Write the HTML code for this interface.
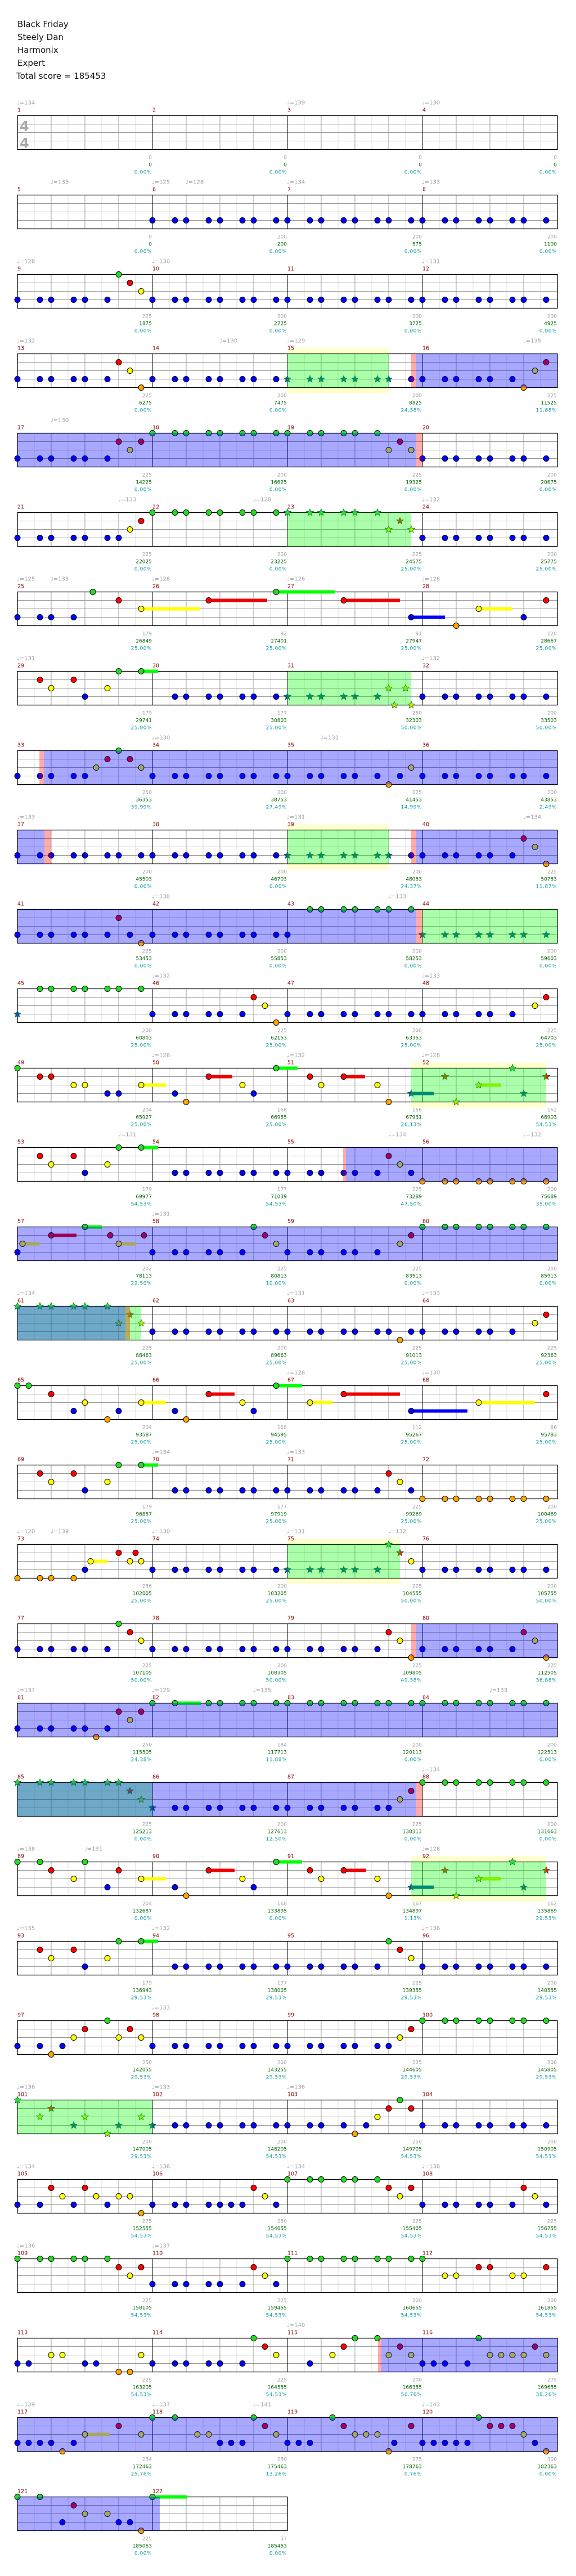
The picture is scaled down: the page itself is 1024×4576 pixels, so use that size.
<!DOCTYPE html>
<html><head><meta charset="utf-8">
<style>
html,body{margin:0;padding:0;background:#fff;}
svg{display:block;}
</style></head>
<body>
<svg id="s" xmlns="http://www.w3.org/2000/svg" width="1024" height="4576" viewBox="0 0 1024 4576" font-family="DejaVu Sans, Liberation Sans, sans-serif">
<rect width="1024" height="4576" fill="#fff"/>
<g font-size="15" fill="#111">
<text x="31" y="48">Black Friday</text>
<text x="31" y="71">Steely Dan</text>
<text x="31" y="94">Harmonix</text>
<text x="31" y="117">Expert</text>
<text x="29" y="140">Total score = 185453</text>
</g>
</svg>
<script>
(function(){
var NS="http://www.w3.org/2000/svg";
var svg=document.getElementById('s');
var out=[];
var LANE={G:0,R:1,Y:2,B:3,O:4};
var FILL={G:'#22dd22',R:'#ff0000',Y:'#ffff00',B:'#0000ff',O:'#ffa500'};
var SFILL={G:'#33dd33',R:'#ff2200',Y:'#ccee00',B:'#1050b0',O:'#dddd00'};
var SUS={G:'#00ff00',R:'#ee0000',Y:'#ffff00',B:'#0000ff',O:'#ff9900'};
var STD=[0,2,3,5,6,8,9,11];
var M=[null,
"","","","","",
"Bx8","Bx8","Bx8",
"Bx6 G9 R10 Y11","Bx8","Bx8","Bx8",
"Bx6 R9 Y10 O11","Bx8","*Bx7 B11","Bx6 O9 Y10 R11",
"Bx6 R9 Y10 R11","Gx8","Gx6 Y9 R10 Y11","Bx8",
"Bx7 Y10 R11","Gx8","*Gx6 *Y9 *R10 *Y11","Bx8",
"B0 B2 B3 B5 G6.7 R9 Y11-16.2","R5-10.2 G11-16.2","R5-10 B11-14","O3 Y5-8 B9 R11",
"R2 Y3 R5 B6 Y8 G9 G11-12.5","B2 B3 B5 B6 B8 B9 B11","*Bx6 *Y9 *O9.5 *Y10.5 *O11","Bx8",
"B0 B2 B3 B5 B6 Y7 R8 G9 R10 Y11","Bx8","Bx6 O9 B10 Y11","Bx8",
"Bx8","Bx8","*Bx7 B11","Bx6 R9 Y10 O11",
"Bx6 R9 B10 O11","Bx8","B0 G2 G3 G5 G6 G8 G9 G11","*Bx8",
"*B0 G2 G3 G5 G6 G8 G9 G11","Bx6 R9 Y10 O11","Bx8","Bx6 Y10 R11",
"G0 R2 R3 Y5 Y6 B8 B9 Y11-13.2","B2 O3 R5-7.1 Y8 B9 G11-12.9","R2 Y3 R5-6.9 Y8 O9 *B11-13","*R2 *O3 *Y5-7 *G8 *B9 *R11",
"R2 Y3 R5 B6 Y8 G9 G11-12.5","B2 B3 B5 B6 B8 B9 B11","Bx6 R9 Y10 B11","Ox8",
"B0 Y0.45-1.95 R3-5.25 G6-7.5 R8.25 Y9-10.5 R11.25","Bx6 G9 R10 Y11","Bx6 Y10 R11","Gx8",
"*Gx6 *Y9 *R10 *Y11","Bx8","Bx7 O10 B11","Bx6 Y10 R11",
"G0 G1 R3 B5 Y6 O8 B9 Y11-13.2","B2 O3 R5-7.3 Y8 B9 G11-13.3","Y2-4 R5-10 B11-16","Y5-10 R11",
"R2 Y3 R5 B6 Y8 G9 G11-12.5","B2 B3 B5 B6 B8 B9 B11","Bx6 R9 Y10 B11","Ox8",
"O0 O2 O3 O5 B6 Y6.5-8 R9 Y10 R10.5 Y11","Bx8","*Bx6 *G9 *R10 Y11","Bx8",
"Bx6 G9 R10 Y11","Bx8","Bx6 R9 Y10 O11","Bx6 R9 Y10 O11",
"Bx6 O7 R9 Y10 R11","G0 G2-4.3 G5 G6 G8 G9 G11","Gx8","Gx8",
"*Gx7 *R10 *Y11","*B0 B2 B3 B5 B6 B8 B9 B11","Bx7 Y10 R11","Gx8",
"G0 G2 R3 Y5 G6 B8 R9 Y11-13.2","B2 O3 R5-7.3 Y8 B9 G11-13.3","R2 Y3 R5-7 Y8 O9 *B11-13","*R2 *O3 *Y5-7 *G8 *B9 *R11",
"R2 Y3 R5 B6 Y8 G9 G11-12.5","B2 B3 B5 B6 B8 B9 B11","Bx6 G9 R10 Y11","Bx8",
"B0 B2 O3 B4 Y5 R6 G8 Y9 R10 Y11","Bx8","Bx7 Y10 R11","Gx8",
"*G0 *Y2 *R3 *B5 *Y6 *O8 *B9 *Y11","*B0 B2 B3 B5 B6 B8 B9 B11","B0 B2 B3 B5 O6 B7 Y8 R9 G10 R11","Bx8",
"B0 B2 R3 Y4 B5 R6 Y7 B8 Y9 Y10 O11","B0 B2 B3 B5 B6 B7 B8 R9 Y10 B11","Gx6 R9 Y10 R11","Bx6 R9 Y10 B11",
"Gx6 R9 Y10 R11","Bx6 R9 Y10 B11","Gx8","G0 Y2 Y3 R5 R6 Y8 Y9 R11",
"B0 B1 Y3 Y4 B6 B7 O9 O10 Y11","Bx6 G9 R10 Y11","B2 Y4 R5 G6 G8 Y9 R10 Y11","B0 B1 B2 B4 G5 Y6 Y7 Y8 Y9 R10 Y11",
"B0 B1 B2 B3 O4 B5 Y6-8.2 R9 Y11","G0 G2 Y4 Y5 B6 B7 B8 G9 R10 Y11","B0 B1 B2 G4 R5 Y6 Y7 Y8 O9 B9.5 R11","B0 B1 B2 B3 B4 G5 R6 R7 R8 Y9 B10 O11",
"G0 G2 B4 R5 Y6 Y8 B9 B10 O11","G0-3.1"];
var S=[null,
[0,0,"0.00%"],[0,0,"0.00%"],[0,0,"0.00%"],[0,0,"0.00%"],
[0,0,"0.00%"],[200,200,"0.00%"],[200,575,"0.00%"],[200,1100,"0.00%"],
[225,1875,"0.00%"],[200,2725,"0.00%"],[200,3725,"0.00%"],[200,4925,"0.00%"],
[225,6275,"0.00%"],[200,7475,"0.00%"],[200,8825,"24.38%"],[225,11525,"11.88%"],
[225,14225,"0.00%"],[200,16625,"0.00%"],[225,19325,"0.00%"],[200,20675,"0.00%"],
[225,22025,"0.00%"],[200,23225,"0.00%"],[225,24575,"25.00%"],[200,25775,"25.00%"],
[179,26849,"25.00%"],[92,27401,"25.00%"],[91,27947,"25.00%"],[120,28667,"25.00%"],
[179,29741,"25.00%"],[177,30803,"25.00%"],[250,32303,"50.00%"],[200,33503,"50.00%"],
[250,36353,"39.99%"],[200,38753,"27.49%"],[225,41453,"14.99%"],[200,43853,"2.49%"],
[200,45503,"0.00%"],[200,46703,"0.00%"],[200,48053,"24.37%"],[225,50753,"11.87%"],
[225,53453,"0.00%"],[200,55853,"0.00%"],[200,58253,"0.00%"],[200,59603,"0.00%"],
[200,60803,"25.00%"],[225,62153,"25.00%"],[200,63353,"25.00%"],[225,64703,"25.00%"],
[204,65927,"25.00%"],[168,66985,"25.00%"],[166,67931,"26.13%"],[162,68903,"54.53%"],
[179,69977,"54.53%"],[177,71039,"54.53%"],[225,73289,"47.50%"],[200,75689,"35.00%"],
[202,78113,"22.50%"],[225,80813,"10.00%"],[225,83513,"0.00%"],[200,85913,"0.00%"],
[225,88463,"25.00%"],[200,89663,"25.00%"],[225,91013,"25.00%"],[225,92363,"25.00%"],
[204,93587,"25.00%"],[168,94595,"25.00%"],[112,95267,"25.00%"],[86,95783,"25.00%"],
[179,96857,"25.00%"],[177,97919,"25.00%"],[225,99269,"25.00%"],[200,100469,"25.00%"],
[256,102005,"25.00%"],[200,103205,"25.00%"],[225,104555,"50.00%"],[200,105755,"50.00%"],
[225,107105,"50.00%"],[200,108305,"50.00%"],[225,109805,"49.38%"],[225,112505,"36.88%"],
[250,115505,"24.38%"],[184,117713,"11.88%"],[200,120113,"0.00%"],[200,122513,"0.00%"],
[225,125213,"0.00%"],[200,127613,"12.50%"],[225,130313,"0.00%"],[200,131663,"0.00%"],
[204,132687,"0.00%"],[168,133895,"0.00%"],[167,134897,"1.13%"],[162,135869,"29.53%"],
[179,136943,"29.53%"],[177,138005,"29.53%"],[225,139355,"29.53%"],[200,140555,"29.53%"],
[250,142055,"29.53%"],[200,143255,"29.53%"],[225,144605,"29.53%"],[200,145805,"29.53%"],
[200,147005,"29.53%"],[200,148205,"54.53%"],[250,149705,"54.53%"],[200,150905,"54.53%"],
[275,152555,"54.53%"],[250,154055,"54.53%"],[225,155405,"54.53%"],[225,156755,"54.53%"],
[225,158105,"54.53%"],[225,159455,"54.53%"],[200,160655,"54.53%"],[200,161855,"54.53%"],
[225,163205,"54.53%"],[225,164555,"54.53%"],[200,166355,"50.76%"],[275,169655,"38.26%"],
[234,172463,"25.76%"],[250,175463,"13.26%"],[275,178763,"0.76%"],[300,182363,"0.00%"],
[225,185063,"0.00%"],[37,185453,"0.00%"]];
var T=["0,0,134;2,0,139;3,0,130","0,3,135;1,0,125;1,3,128;2,0,134;3,0,133","0,0,128;1,0,130;3,0,131",
"0,0,132;1,6,130;2,0,129;3,9,135","0,3,130","0,9,133;1,9,128;3,0,132","0,0,125;0,3,133;1,0,128;2,0,126;3,0,128",
"0,0,131;3,0,132","1,0,130;2,3,131","0,0,133;2,0,131;3,9,134","1,0,130;2,9,133","1,0,132;3,0,133",
"1,0,126;2,0,132;3,0,128","0,9,131;2,9,134;3,9,132","1,0,131","0,0,134;2,0,131;3,0,133","2,0,128;3,0,130",
"1,0,134;2,0,133","0,0,120;0,3,139;1,0,130;2,0,131;2,9,132","","0,0,137;1,0,129;1,9,135;3,6,133","3,0,134",
"0,0,138;0,6,131;3,0,128","0,0,135;1,0,132;3,0,136","1,0,133","0,0,136;1,0,133;2,0,136","0,0,134;1,0,136;2,0,134;3,0,138",
"0,0,136;1,0,137","2,0,140","0,0,139;1,0,137;1,9,141;3,0,143",""];
// regions: type,U0,U1 ; y=yellow band, g=green, p=pink, b=blue overlay, t=tan
var R={4:"y,24,33;g,24,33;p,35,35.45;b,35.45,48",5:"b,0,35.45;p,35.45,36",6:"g,24,35",8:"g,24,35",
9:"p,1.95,2.35;b,2.35,48",10:"b,0,2.4;p,2.4,3;y,24,33;g,24,33;p,35,35.45;b,35.45,48",
11:"b,0,35.45;p,35.45,36;g,36,48",13:"y,35,47;g,35,47",14:"p,28.95,29.2;b,29.2,48",15:"b,0,48",
16:"g,0,11;b,0,9.6;t,9.6,10",19:"y,24,34;g,24,34",20:"p,35,35.45;b,35.45,48",21:"b,0,48",
22:"g,0,12;b,0,35.45;p,35.45,36",23:"y,35,47;g,35,47",26:"g,0,12",29:"p,32.05,32.35;b,32.35,48",
30:"b,0,48",31:"b,0,12.65"};
function star(cx,cy,r,fill){var p=[];for(var i=0;i<10;i++){var a=-Math.PI/2+i*Math.PI/5;var rr=i%2?r*0.45:r;p.push((cx+rr*Math.cos(a)).toFixed(1)+','+(cy+rr*Math.sin(a)).toFixed(1));}
return '<polygon points="'+p.join(' ')+'" fill="'+fill+'" stroke="#063" stroke-width="0.8"/>';}
for(var row=0;row<31;row++){
 var top=205.5+141*row;var nm=row==30?2:4;var x0=31;var W=nm*240;
 var reg=(R[row+1]||"").split(';').filter(function(s){return s;}).map(function(s){var a=s.split(',');return [a[0],+a[1],+a[2]];});
 // yellow band
 reg.forEach(function(r){if(r[0]=='y')out.push('<rect x="'+(x0+r[1]*20)+'" y="'+(top-10)+'" width="'+((r[2]-r[1])*20)+'" height="80" fill="#ffffcc"/>');});
 out.push('<rect x="'+x0+'" y="'+top+'" width="'+W+'" height="60" fill="#fff"/>');
 // grid
 for(var k=1;k<nm*8;k++){var xx=x0+k*30;if(k%8==0)continue;out.push('<line x1="'+xx+'" y1="'+top+'" x2="'+xx+'" y2="'+(top+60)+'" stroke="'+(k%2?'#dcdcdc':'#999')+'" stroke-width="1"/>');}
 for(var h=1;h<4;h++){out.push('<line x1="'+x0+'" y1="'+(top+h*15)+'" x2="'+(x0+W)+'" y2="'+(top+h*15)+'" stroke="#999" stroke-width="1"/>');}
 for(var m=1;m<nm;m++){var xx=x0+m*240;out.push('<line x1="'+xx+'" y1="'+top+'" x2="'+xx+'" y2="'+(top+60)+'" stroke="#000" stroke-width="1"/>');}
 out.push('<rect x="'+x0+'" y="'+top+'" width="'+W+'" height="60" fill="none" stroke="#000" stroke-width="1.3"/>');
 if(row==0){out.push('<text x="35" y="'+(top+27)+'" font-size="24" font-weight="bold" fill="#aaa">4</text><text x="35" y="'+(top+57)+'" font-size="24" font-weight="bold" fill="#aaa">4</text>');}
 // notes
 var sus=[],heads=[];
 for(var m=0;m<nm;m++){
  var mn=row*4+m+1;var str=M[mn]||"";var toks=str.split(' ').filter(function(s){return s;});
  var notes=[];
  toks.forEach(function(t){var st=false;if(t[0]=='*'){st=true;t=t.slice(1);}var L=t[0];
   if(t[1]=='x'){var n=+t.slice(2);for(var i=0;i<n;i++)notes.push({L:L,u:STD[i],st:st});}
   else{var a=t.slice(1).split('-');notes.push({L:L,u:+a[0],e:a[1]?+a[1]:null,st:st});}});
  notes.forEach(function(n){var cx=x0+m*240+n.u*20;var cy=top+LANE[n.L]*15;
   if(n.e!=null){var ex=x0+m*240+n.e*20;var col=n.st&&n.L=='B'?'#0050b0':(n.st&&n.L=='Y'?'#bbee00':SUS[n.L]);sus.push('<rect x="'+cx+'" y="'+(cy-3)+'" width="'+(ex-cx)+'" height="6" fill="'+col+'"/>');}
   if(n.st)heads.push(star(cx,cy,6.5,SFILL[n.L]));
   else heads.push('<circle cx="'+cx+'" cy="'+cy+'" r="5" fill="'+FILL[n.L]+'" stroke="#000" stroke-width="0.9"/>');});
  // labels
  var mx=x0+m*240;
  out.push('<text x="'+mx+'" y="'+(top-7)+'" font-size="9.5" fill="#8b0000">'+mn+'</text>');
  var s=S[mn];var ex2=mx+240-1;
  out.push('<text x="'+ex2+'" y="'+(top+77)+'" font-size="9" fill="#a0a0a0" text-anchor="end">'+s[0]+'</text>');
  out.push('<text x="'+ex2+'" y="'+(top+90)+'" font-size="9" fill="#006400" text-anchor="end">'+s[1]+'</text>');
  out.push('<text x="'+ex2+'" y="'+(top+103)+'" font-size="9" fill="#009999" text-anchor="end" letter-spacing="0.5">'+s[2]+'</text>');
 }
 out.push(sus.join(''));out.push(heads.join(''));
 // overlays
 reg.forEach(function(r){var X=x0+r[1]*20,w=(r[2]-r[1])*20;var c=null;
  if(r[0]=='g')c='rgba(0,255,0,0.33)';else if(r[0]=='p')c='rgba(255,0,0,0.33)';else if(r[0]=='b')c='rgba(0,0,255,0.34)';else if(r[0]=='t')c='rgba(200,120,40,0.6)';
  if(c)out.push('<rect x="'+X+'" y="'+top+'" width="'+w+'" height="60" fill="'+c+'"/>');});
 // tempos
 (T[row]||"").split(';').filter(function(s){return s;}).forEach(function(s){var a=s.split(',');var tx=x0+(+a[0])*240+(+a[1])*20;
  out.push('<text x="'+(tx-1)+'" y="'+(top-20)+'" font-size="10" fill="#a0a0a0">\u2669=' + a[2] + '</text>');});
}
svg.insertAdjacentHTML('beforeend',out.join(''));
})();
</script>
</body></html>
